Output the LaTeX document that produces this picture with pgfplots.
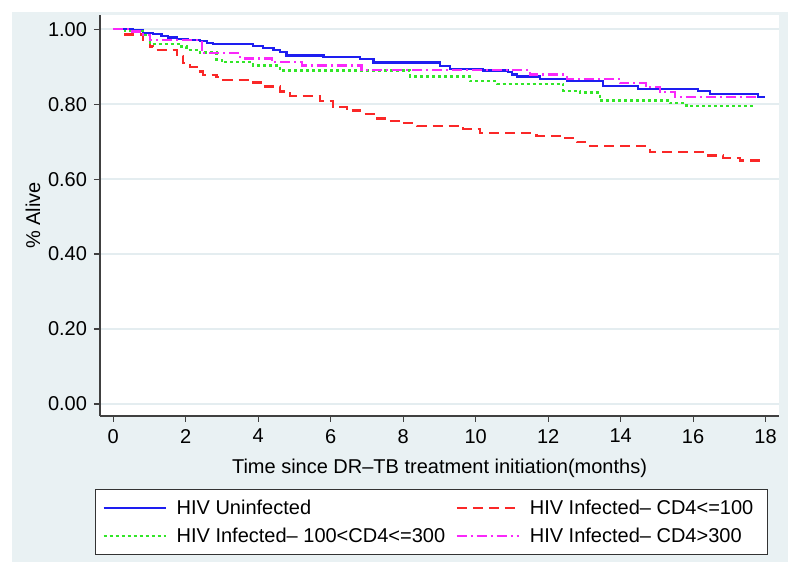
\documentclass[border=0pt]{standalone}
\usepackage{fontspec}
\setmainfont{Liberation Sans}
\usepackage{pgfplots}
\pgfplotsset{compat=1.18}
\definecolor{bgc}{RGB}{233,241,243}
\definecolor{gridc}{RGB}{228,237,240}
\definecolor{cblue}{RGB}{30,30,240}
\definecolor{cred}{RGB}{250,40,40}
\definecolor{cgreen}{RGB}{50,230,40}
\definecolor{cmag}{RGB}{250,40,250}
\begin{document}
\begin{tikzpicture}[font=\fontsize{10}{11.5}\selectfont]
\fill[white] (-50pt,-78pt) rectangle (350pt,208pt);
\fill[bgc] (-44pt,-73pt) rectangle (344pt,202pt);
\fill[white] (0,0) rectangle (339.5pt,200.5pt);
\begin{axis}[
  scale only axis, width=339.5pt, height=200.5pt,
  xmin=-0.367, xmax=18.37, ymin=-0.032, ymax=1.038,
  axis x line*=bottom, axis y line*=left,
  axis line style={black!75, line width=0.6pt, -},
  xtick={0,2,...,18}, ytick={0,0.2,0.4,0.6,0.8,1.0},
  tick align=outside, major tick length=3pt,
  tick style={black!75, line width=0.6pt},
  ymajorgrids, grid style={gridc, line width=0.8pt},
  /pgf/number format/assume math mode=true,
  yticklabel style={/pgf/number format/.cd, fixed, fixed zerofill, precision=2},
  xlabel={Time since DR–TB treatment initiation(months)},
  ylabel={\% Alive},
  every axis x label/.style={at={(axis description cs:0.5,-0.13)}, anchor=center},
  every axis y label/.style={at={(axis description cs:-0.0987,0.5)}, rotate=90, anchor=center},
  legend columns=2, legend cell align=left,
  legend image code/.code={\draw[#1] (0pt,0pt) -- (31pt,0pt);},
  legend style={at={(axis description cs:-0.0074,-0.182)}, anchor=north west,
    draw=black!80, line width=0.5pt, fill=white, inner xsep=3.5pt, inner ysep=4.5pt,
    nodes={inner sep=0pt, anchor=west}, column sep=5pt, row sep=4.5pt},
]
\addplot[const plot, cblue, line width=1.1pt] coordinates {
(0,1.000) (0.55,0.997) (0.83,0.991) (1.10,0.987) (1.33,0.982) (1.52,0.978)
(1.75,0.974) (2.07,0.971) (2.39,0.969) (2.58,0.964) (2.76,0.960) (3.86,0.955)
(4.14,0.949) (4.42,0.945) (4.60,0.939) (4.78,0.930) (5.80,0.925) (6.81,0.920)
(7.18,0.911) (9.02,0.901) (9.29,0.894) (10.21,0.890) (10.90,0.885) (11.00,0.879)
(11.13,0.874) (11.77,0.868) (12.51,0.861) (13.52,0.848) (14.49,0.841) (16.14,0.835)
(16.47,0.828) (17.80,0.820) (17.98,0.820)};
\addlegendentry{\makebox[134.5pt][l]{\strut HIV Uninfected}}
\addplot[const plot, cred, line width=1.1pt, dash pattern=on 5pt off 3pt] coordinates {
(0,1.000) (0.28,0.986) (0.83,0.971) (1.01,0.954) (1.10,0.945) (1.75,0.929)
(1.93,0.909) (2.12,0.900) (2.30,0.887) (2.48,0.878) (2.85,0.872) (3.04,0.865)
(3.86,0.858) (4.14,0.847) (4.60,0.834) (4.88,0.822) (5.70,0.809) (6.07,0.792)
(6.44,0.783) (6.81,0.774) (7.18,0.762) (7.54,0.756) (7.91,0.749) (8.37,0.742)
(9.66,0.734) (10.12,0.723) (11.68,0.716) (12.33,0.709) (12.79,0.699) (13.15,0.688)
(14.81,0.672) (16.37,0.663) (16.83,0.657) (17.29,0.650) (17.94,0.650)};
\addlegendentry{\makebox[115.5pt][l]{\strut HIV Infected– CD4<=100}}
\addplot[const plot, cgreen, line width=1.1pt, dash pattern=on 1.5pt off 1.5pt] coordinates {
(0,1.000) (0.32,0.995) (0.83,0.985) (1.01,0.961) (1.80,0.954) (2.02,0.945)
(2.39,0.938) (2.85,0.918) (2.99,0.912) (3.86,0.903) (4.60,0.890) (8.19,0.874)
(9.84,0.861) (10.58,0.854) (12.42,0.836) (12.88,0.831) (13.43,0.810) (15.36,0.803)
(15.82,0.795) (17.66,0.795)};
\addlegendentry{\makebox[134.5pt][l]{\strut HIV Infected– 100<CD4<=300}}
\addplot[const plot, cmag, line width=1.1pt, dash pattern=on 5pt off 2pt on 1pt off 2pt] coordinates {
(0,1.000) (0.46,0.994) (0.83,0.985) (1.01,0.971) (2.44,0.936) (3.50,0.922)
(4.37,0.912) (5.20,0.903) (6.85,0.891) (11.50,0.879) (12.51,0.868) (13.98,0.856)
(14.70,0.845) (15.09,0.832) (15.50,0.820) (17.80,0.820)};
\addlegendentry{\makebox[115.5pt][l]{\strut HIV Infected– CD4>300}}
\end{axis}
\pgfresetboundingbox
\useasboundingbox (-50pt,-78pt) rectangle (350pt,208pt);
\end{tikzpicture}
\end{document}
